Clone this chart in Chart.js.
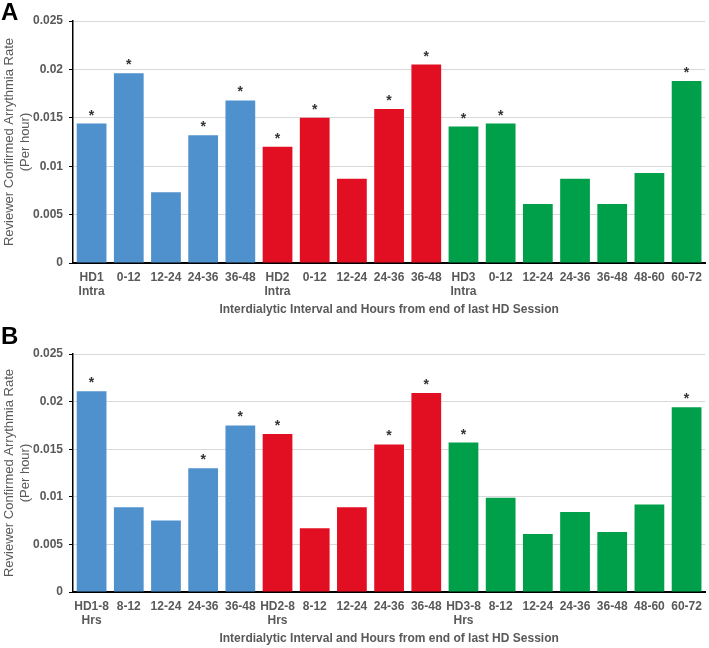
<!DOCTYPE html>
<html>
<head>
<meta charset="utf-8">
<script src="https://cdn.jsdelivr.net/npm/chart.js@4/dist/chart.umd.min.js"></script>
<style>
  body { margin: 0; background: #fff; }
  #wrap { position: relative; width: 709px; height: 648px; }
  .panel { position: absolute; left: 0; width: 709px; }
  .letter { position: absolute; left: 1px; font: bold 24px "Liberation Sans", Arial, sans-serif; line-height: 24px; color: #000; }
</style>
</head>
<body>
<div id="wrap">
  <div class="panel" style="top:0;height:323px"><canvas id="chartA"></canvas></div>
  <div class="panel" style="top:323px;height:325px"><canvas id="chartB"></canvas></div>
  <div class="letter" style="top:0">A</div>
  <div class="letter" style="top:324px">B</div>
</div>
<script>
 // panel A: intradialytic + 12h bins
 const labelsA = [['HD1','Intra'],'0-12','12-24','24-36','36-48',['HD2','Intra'],'0-12','12-24','24-36','36-48',
                  ['HD3','Intra'],'0-12','12-24','24-36','36-48','48-60','60-72'];
 const valuesA = [0.0144,0.0196,0.0073,0.0132,0.0168,0.0120,0.0150,0.0087,0.0159,0.0205,
                  0.0141,0.0144,0.0061,0.0087,0.0061,0.0093,0.0188];
 const starsA  = [1,1,0,1,1,1,1,0,1,1,1,1,0,0,0,0,1];
 const groupA  = [0,0,0,0,0,1,1,1,1,1,2,2,2,2,2,2,2];

 // panel B: first 8 hours + later bins
 const labelsB = [['HD1-8','Hrs'],'8-12','12-24','24-36','36-48',['HD2-8','Hrs'],'8-12','12-24','24-36','36-48',
                  ['HD3-8','Hrs'],'8-12','12-24','24-36','36-48','48-60','60-72'];
 const valuesB = [0.0211,0.0089,0.0075,0.0130,0.0175,0.0166,0.0067,0.0089,0.0155,0.0209,
                  0.0157,0.0099,0.0061,0.0084,0.0063,0.0092,0.0194];
 const starsB  = [1,0,0,1,1,1,0,0,1,1,1,0,0,0,0,0,1];
 const groupB  = [0,0,0,0,0,1,1,1,1,1,2,2,2,2,2,2,2];

 const yTicks = [0, 0.005, 0.01, 0.015, 0.02, 0.025];

 const palette = ['#4f91cd', '#e20f22', '#00a04a'];
 const grey = '#595959';
 const FONT = '"Liberation Sans", Arial, sans-serif';

 const starPlugin = {
   id: 'stars',
   afterDatasetsDraw(chart, args, opts) {
     const ctx = chart.ctx;
     const meta = chart.getDatasetMeta(0);
     ctx.save();
     ctx.fillStyle = '#333';
     ctx.font = 'bold 14px ' + FONT;
     ctx.textAlign = 'center';
     ctx.textBaseline = 'alphabetic';
     meta.data.forEach(function (bar, i) {
       if (opts.flags[i]) ctx.fillText('*', bar.x, bar.y - 4);
     });
     ctx.restore();
   }
 };

 function makeConfig(labels, values, groups, stars, pad) {
   return {
     type: 'bar',
     data: {
       labels: labels,
       datasets: [{
         data: values,
         backgroundColor: groups.map(g => palette[g]),
         borderWidth: 0,
         barPercentage: 0.8,
         categoryPercentage: 1.0
       }]
     },
     plugins: [starPlugin],
     options: {
       responsive: true,
       maintainAspectRatio: false,
       animation: false,
       layout: { padding: { top: pad.top, right: 2, left: 0, bottom: 0 } },
       scales: {
         y: {
           min: 0,
           max: 0.025,
           afterBuildTicks: (scale) => { scale.ticks = yTicks.map(v => ({ value: v })); },
           afterFit: (scale) => { scale.width = 73; },
           border: { color: '#000', width: 1.5 },
           grid: { color: '#d9d9d9', lineWidth: 1, tickColor: '#000', tickLength: 4 },
           ticks: {
             padding: 6,
             color: grey,
             font: { family: FONT, size: 12, weight: 'bold' },
             callback: (v) => String(v)
           },
           title: {
             display: true,
             text: ['Reviewer Confirmed Arrythmia Rate', '(Per hour)'],
             color: grey,
             padding: { top: 2, bottom: 0 },
             font: { family: FONT, size: 13 }
           }
         },
         x: {
           afterFit: (scale) => { scale.height = pad.xh; },
           border: { color: '#000', width: 2 },
           grid: { display: false, drawTicks: false },
           ticks: {
             padding: 7,
             maxRotation: 0,
             autoSkip: false,
             color: grey,
             font: { family: FONT, size: 12, weight: 'bold', lineHeight: 1.2 }
           },
           title: {
             display: true,
             text: 'Interdialytic Interval and Hours from end of last HD Session',
             color: grey,
             padding: { top: 0, bottom: pad.tb },
             font: { family: FONT, size: 12, weight: 'bold' }
           }
         }
       },
       plugins: {
         legend: { display: false },
         tooltip: { enabled: false },
         stars: { flags: stars }
       }
     }
   };
 }

 const chartA = new Chart(document.getElementById('chartA'),
   makeConfig(labelsA, valuesA, groupA, starsA, { top: 21, xh: 60, tb: 6 }));
 const chartB = new Chart(document.getElementById('chartB'),
   makeConfig(labelsB, valuesB, groupB, starsB, { top: 31, xh: 56, tb: 2 }));
</script>
</body>
</html>
